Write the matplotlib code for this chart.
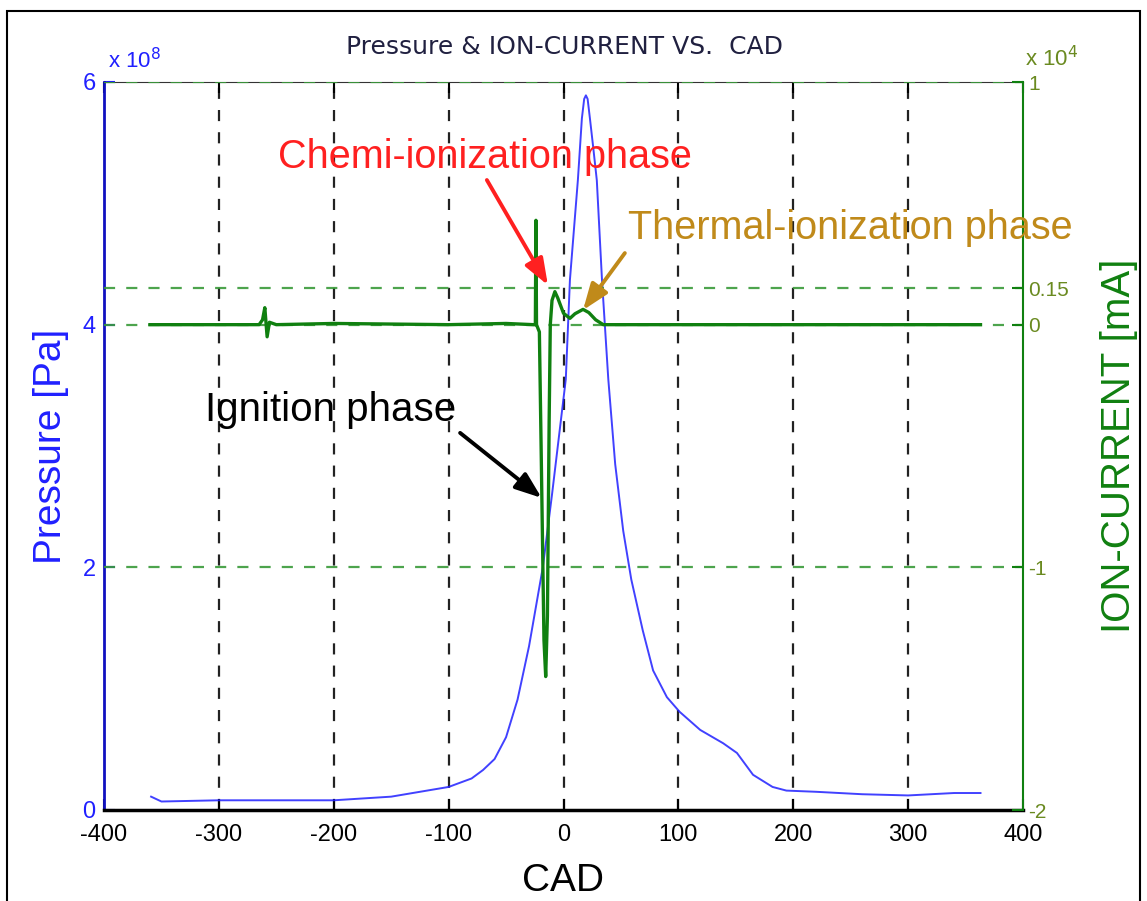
import matplotlib
matplotlib.use("Agg")
import matplotlib.pyplot as plt
from matplotlib.patches import Rectangle

plt.rcParams['font.family'] = ['Liberation Sans', 'DejaVu Sans']

# ---- data ----
cad_p = [-359, -350, -300, -250, -200, -150, -100, -80, -70, -60, -50, -40, -30,
         -18, -10, 2, 5.6, 12.5, 16, 18, 19.5, 21, 23, 26, 29, 33.5, 39, 45, 52, 59,
         69, 78, 90, 101, 119, 139, 151, 165, 182, 194, 220, 260, 300, 340, 363]
pressure = [0.11, 0.07, 0.08, 0.08, 0.08, 0.11, 0.19, 0.26, 0.33, 0.42, 0.6, 0.91, 1.35,
            2.0, 2.6, 3.55, 4.37, 5.19, 5.7, 5.86, 5.89, 5.86, 5.7, 5.45, 5.19, 4.37,
            3.55, 2.85, 2.3, 1.9, 1.48, 1.15, 0.93, 0.81, 0.66, 0.55, 0.47, 0.29, 0.19,
            0.16, 0.15, 0.13, 0.12, 0.14, 0.14]

cad_i = [-360, -300, -265, -262, -260, -258, -256, -250, -200, -100, -50, -26,
         -24.5, -24, -23.5, -21, -19.5, -17, -15.5, -14, -12.5, -11.5, -10, -7.5, -5,
         0, 5.6, 10, 17, 22, 28, 34.6, 40, 100, 200, 300, 363]
ion = [0, 0, 0, 0.02, 0.07, -0.05, 0.01, 0, 0.005, 0, 0.005, 0,
       0, 0.43, 0, -0.03, -0.5, -1.3, -1.45, -1.2, -0.4, 0, 0.1, 0.136, 0.11,
       0.047, 0.026, 0.045, 0.063, 0.05, 0.02, 0, 0, 0, 0, 0, 0]

x_ticks = [-400, -300, -200, -100, 0, 100, 200, 300, 400]
p_ticks = [0, 2, 4, 6]
i_ticks = [-2, -1, 0, 0.15, 1]
i_ticklabels = ['-2', '-1', '0', '0.15', '1']

BLUE = '#2020ff'
GREEN = '#108010'
TICKGREEN = '#6a8a20'

fig = plt.figure(figsize=(11.47, 9.01), dpi=100)
ax = fig.add_axes([104/1147, 1-810/901, (1023-104)/1147, (810-82)/901])
ax2 = ax.twinx()

# pressure
ax.plot(cad_p, pressure, color=BLUE, lw=1.4, alpha=0.85)
ax.set_xlim(-400, 400)
ax.set_ylim(0, 6)
ax.set_xticks(x_ticks)
ax.set_xticklabels([str(t) for t in x_ticks])
ax.set_yticks(p_ticks)
ax.tick_params(axis='x', direction='in', length=8, width=1.5, labelsize=17, pad=10,
               top=True, colors='black')
ax.tick_params(axis='y', direction='in', length=8, width=1.5, labelsize=17, pad=6,
               colors=BLUE, labelcolor=BLUE)
for t in ax.get_xticks()[1:-1]:
    ax.axvline(t, color='#222222', lw=1.6, ls=(0, (5, 5)), zorder=0)
ax.spines['left'].set_color('#1010c0')
ax.spines['left'].set_linewidth(2.0)
ax.spines['bottom'].set_linewidth(2.5)
ax.spines['bottom'].set_color('black')
ax.spines['top'].set_color('#333333')
ax.spines['right'].set_visible(False)
ax.set_xlabel('CAD', fontsize=28, labelpad=12)
ax.set_ylabel('Pressure [Pa]', fontsize=28, color=BLUE, labelpad=10)
ax.text(0.004, 1.012, r'x 10$^{8}$', transform=ax.transAxes, color=BLUE,
        fontsize=16, ha='left', va='bottom')

# ion current
ax2.plot(cad_i, ion, color=GREEN, lw=2.4)
ax2.set_ylim(-2, 1)
ax2.set_yticks(i_ticks)
ax2.set_yticklabels(i_ticklabels)
ax2.tick_params(axis='y', direction='in', length=8, width=1.5, labelsize=15, pad=4,
                colors=GREEN, labelcolor=TICKGREEN)
for t in i_ticks[1:]:
    ax2.axhline(t, color='#3a9a3a', lw=1.6, ls=(0, (5, 5)), zorder=0, alpha=0.9)
ax2.spines['right'].set_color(GREEN)
ax2.spines['right'].set_linewidth(1.5)
ax2.spines['left'].set_visible(False)
ax2.spines['bottom'].set_visible(False)
ax2.spines['top'].set_visible(False)
ax2.set_ylabel('ION-CURRENT [mA]', fontsize=29, color=GREEN, labelpad=22)
ax2.text(1.002, 1.015, r'x 10$^{4}$', transform=ax2.transAxes, color=TICKGREEN,
         fontsize=16, ha='left', va='bottom')

# annotations (ion-current axis data coordinates)
arrow_kw = dict(arrowstyle='-|>,head_length=0.8,head_width=0.3', lw=2.8,
                mutation_scale=20, shrinkA=0, shrinkB=0)
ax2.annotate('', xy=(-19, -0.714), xytext=(-90, -0.446),
             arrowprops=dict(color='black', **arrow_kw))
ax2.text(-203, -0.35, 'Ignition phase', fontsize=29, color='black',
         ha='center', va='center')
ax2.annotate('', xy=(-13.6, 0.163), xytext=(-66.7, 0.596),
             arrowprops=dict(color='#ff2020', **arrow_kw))
ax2.text(-68, 0.69, 'Chemi-ionization phase', fontsize=28.5, color='#ff2020',
         ha='center', va='center')
ax2.annotate('', xy=(17, 0.06), xytext=(53.4, 0.295),
             arrowprops=dict(color='#c08a1a', **arrow_kw))
ax2.text(250, 0.40, 'Thermal-ionization phase', fontsize=28.5, color='#c08a1a',
         ha='center', va='center')

fig.text(565/1147, 1-47/901, 'Pressure & ION-CURRENT VS.  CAD', fontsize=18,
         family='DejaVu Sans', color='#202040', ha='center', va='center')

fig.patches.append(Rectangle((7/1147, -0.01), (1140-7)/1147, 1-11/901+0.01,
                             transform=fig.transFigure, fill=False, lw=1.5,
                             ec='black'))

fig.savefig('out.png', dpi=100)
